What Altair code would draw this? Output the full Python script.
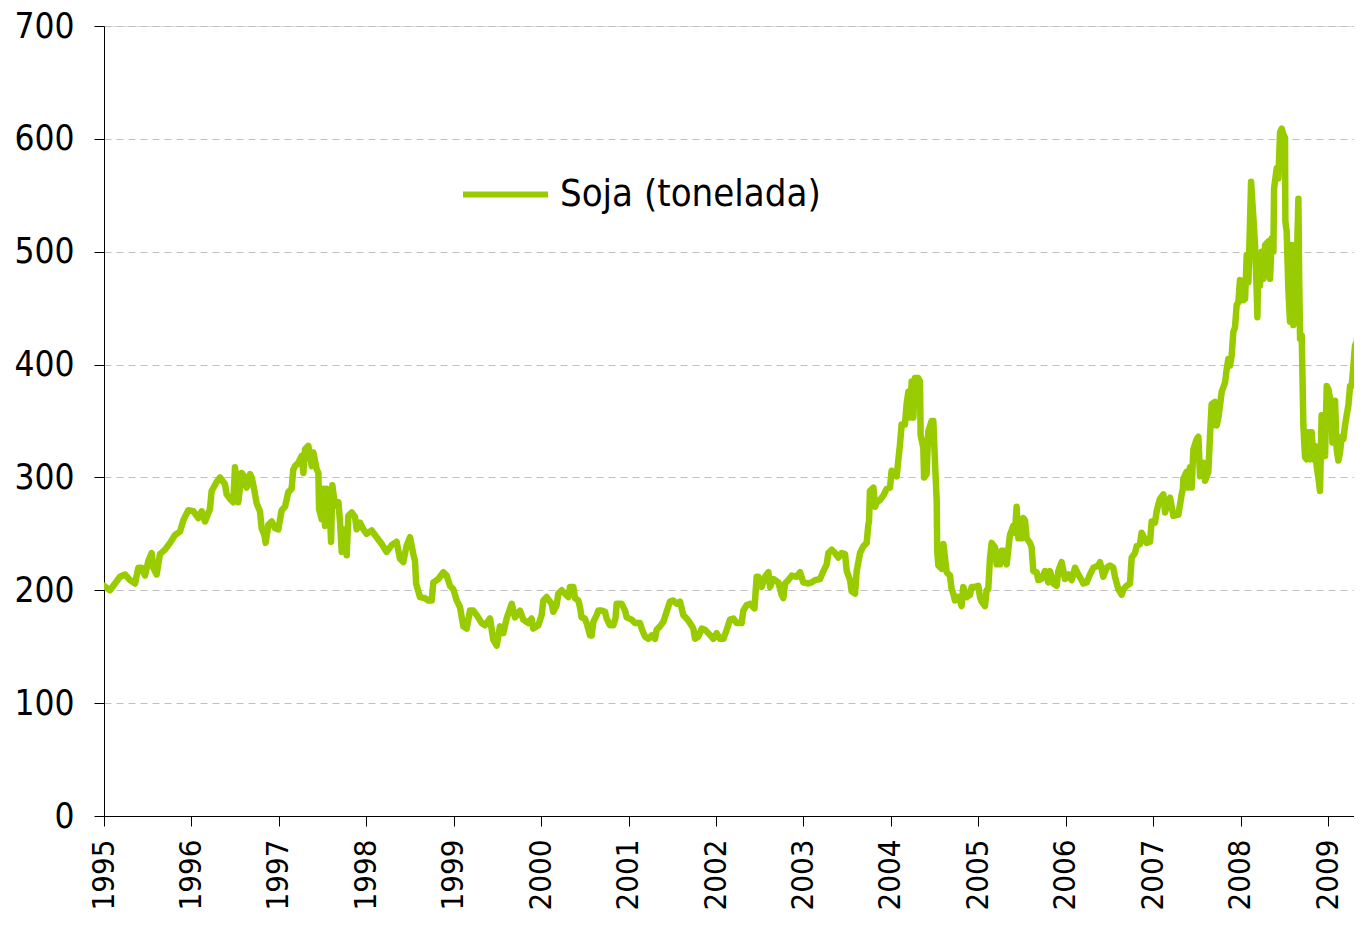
import altair as alt
import pandas as pd

# decimal year of each weekly quote
fecha = [
    1995.000, 1995.069, 1995.107, 1995.183, 1995.240, 1995.297, 1995.355, 1995.393, 1995.431, 1995.469,
    1995.507, 1995.545, 1995.564, 1995.602, 1995.640, 1995.698, 1995.755, 1995.812, 1995.869, 1995.907,
    1995.965, 1996.022, 1996.079, 1996.117, 1996.155, 1996.212, 1996.231, 1996.289, 1996.327, 1996.384,
    1996.403, 1996.441, 1996.479, 1996.498, 1996.517, 1996.536, 1996.575, 1996.601, 1996.632, 1996.670,
    1996.689, 1996.716, 1996.746, 1996.784, 1996.803, 1996.834, 1996.849, 1996.880, 1996.918, 1996.956,
    1996.994, 1997.032, 1997.070, 1997.108, 1997.146, 1997.165, 1997.185, 1997.223, 1997.261, 1997.280,
    1997.299, 1997.337, 1997.357, 1997.376, 1997.395, 1997.433, 1997.452, 1997.460, 1997.490, 1997.509,
    1997.528, 1997.547, 1997.566, 1997.585, 1997.597, 1997.612, 1997.642, 1997.681, 1997.700, 1997.719,
    1997.738, 1997.757, 1997.776, 1997.795, 1997.833, 1997.871, 1997.890, 1997.929, 1997.967, 1998.004,
    1998.061, 1998.099, 1998.176, 1998.233, 1998.290, 1998.347, 1998.385, 1998.423, 1998.462, 1998.500,
    1998.538, 1998.557, 1998.570, 1998.614, 1998.671, 1998.710, 1998.748, 1998.767, 1998.824, 1998.881,
    1998.919, 1998.957, 1998.995, 1999.034, 1999.072, 1999.110, 1999.148, 1999.186, 1999.224, 1999.262,
    1999.320, 1999.358, 1999.415, 1999.453, 1999.491, 1999.529, 1999.567, 1999.605, 1999.663, 1999.701,
    1999.758, 1999.796, 1999.853, 1999.891, 1999.910, 1999.968, 2000.006, 2000.025, 2000.063, 2000.120,
    2000.139, 2000.177, 2000.196, 2000.235, 2000.273, 2000.311, 2000.330, 2000.368, 2000.387, 2000.425,
    2000.444, 2000.463, 2000.501, 2000.520, 2000.559, 2000.578, 2000.597, 2000.635, 2000.654, 2000.692,
    2000.730, 2000.749, 2000.787, 2000.825, 2000.850, 2000.864, 2000.921, 2000.959, 2000.978, 2001.035,
    2001.073, 2001.130, 2001.150, 2001.188, 2001.226, 2001.264, 2001.302, 2001.321, 2001.359, 2001.397,
    2001.435, 2001.474, 2001.512, 2001.550, 2001.588, 2001.626, 2001.664, 2001.702, 2001.741, 2001.760,
    2001.798, 2001.836, 2001.874, 2001.912, 2001.969, 2002.007, 2002.045, 2002.084, 2002.122, 2002.160,
    2002.198, 2002.236, 2002.293, 2002.312, 2002.351, 2002.389, 2002.440, 2002.465, 2002.484, 2002.522,
    2002.561, 2002.599, 2002.618, 2002.656, 2002.713, 2002.751, 2002.770, 2002.789, 2002.827, 2002.866,
    2002.923, 2002.961, 2002.999, 2003.056, 2003.094, 2003.132, 2003.190, 2003.228, 2003.266, 2003.285,
    2003.323, 2003.361, 2003.399, 2003.437, 2003.476, 2003.495, 2003.533, 2003.552, 2003.590, 2003.609,
    2003.647, 2003.685, 2003.723, 2003.742, 2003.750, 2003.760, 2003.800, 2003.819, 2003.838, 2003.876,
    2003.914, 2003.952, 2003.990, 2004.009, 2004.047, 2004.066, 2004.085, 2004.104, 2004.123, 2004.161,
    2004.180, 2004.200, 2004.219, 2004.238, 2004.257, 2004.276, 2004.314, 2004.333, 2004.340, 2004.371,
    2004.380, 2004.409, 2004.428, 2004.466, 2004.485, 2004.504, 2004.524, 2004.530, 2004.543, 2004.581,
    2004.600, 2004.619, 2004.638, 2004.676, 2004.695, 2004.714, 2004.733, 2004.771, 2004.790, 2004.809,
    2004.828, 2004.867, 2004.905, 2004.924, 2004.962, 2005.000, 2005.019, 2005.038, 2005.076, 2005.095,
    2005.114, 2005.133, 2005.153, 2005.191, 2005.210, 2005.248, 2005.267, 2005.286, 2005.324, 2005.343,
    2005.362, 2005.400, 2005.419, 2005.438, 2005.458, 2005.496, 2005.515, 2005.534, 2005.553, 2005.591,
    2005.610, 2005.629, 2005.667, 2005.686, 2005.724, 2005.763, 2005.801, 2005.820, 2005.858, 2005.896,
    2005.915, 2005.953, 2005.991, 2006.029, 2006.068, 2006.106, 2006.144, 2006.182, 2006.201, 2006.239,
    2006.277, 2006.316, 2006.373, 2006.392, 2006.430, 2006.468, 2006.506, 2006.544, 2006.563, 2006.601,
    2006.640, 2006.659, 2006.697, 2006.735, 2006.754, 2006.792, 2006.811, 2006.849, 2006.868, 2006.925,
    2006.964, 2006.983, 2007.021, 2007.040, 2007.059, 2007.078, 2007.116, 2007.136, 2007.174, 2007.193,
    2007.231, 2007.288, 2007.326, 2007.340, 2007.345, 2007.383, 2007.402, 2007.421, 2007.441, 2007.460,
    2007.498, 2007.517, 2007.536, 2007.574, 2007.593, 2007.631, 2007.650, 2007.669, 2007.707, 2007.726,
    2007.746, 2007.765, 2007.784, 2007.822, 2007.841, 2007.860, 2007.879, 2007.898, 2007.917, 2007.936,
    2007.955, 2007.974, 2007.993, 2008.012, 2008.031, 2008.051, 2008.070, 2008.089, 2008.120, 2008.146,
    2008.165, 2008.184, 2008.192, 2008.203, 2008.222, 2008.241, 2008.261, 2008.280, 2008.318, 2008.337,
    2008.356, 2008.375, 2008.383, 2008.413, 2008.432, 2008.451, 2008.470, 2008.489, 2008.508, 2008.512,
    2008.527, 2008.546, 2008.565, 2008.585, 2008.604, 2008.642, 2008.661, 2008.670, 2008.680, 2008.699,
    2008.718, 2008.737, 2008.756, 2008.775, 2008.794, 2008.813, 2008.832, 2008.851, 2008.870, 2008.889,
    2008.908, 2008.927, 2008.946, 2008.966, 2008.985, 2009.004, 2009.023, 2009.042, 2009.050, 2009.080,
    2009.099, 2009.118, 2009.137, 2009.156, 2009.175, 2009.194, 2009.213, 2009.233, 2009.252, 2009.271,
    2009.290, 2009.309, 2009.328, 2009.347, 2009.366, 2009.385,
]

# price of soybeans per tonne
soja = [
    204, 200, 204, 212, 214, 209, 206, 220, 220, 213,
    226, 233, 220, 214, 232, 236, 242, 249, 252, 262,
    271, 270, 264, 270, 261, 272, 288, 296, 300, 294,
    285, 281, 278, 309, 297, 278, 304, 301, 291, 303,
    300, 290, 277, 270, 255, 249, 242, 258, 261, 255,
    254, 271, 274, 287, 290, 307, 310, 313, 319, 304,
    325, 328, 319, 310, 322, 307, 304, 272, 263, 290,
    257, 290, 287, 266, 243, 293, 275, 278, 260, 234,
    246, 254, 231, 266, 269, 265, 254, 260, 254, 250,
    253, 249, 241, 234, 240, 243, 228, 225, 240, 247,
    232, 226, 206, 194, 193, 191, 191, 207, 210, 216,
    213, 204, 201, 191, 185, 168, 166, 182, 182, 178,
    171, 169, 175, 156, 151, 168, 162, 175, 188, 176,
    182, 174, 171, 175, 166, 169, 178, 191, 194, 188,
    181, 187, 197, 200, 197, 194, 203, 203, 193, 191,
    185, 176, 175, 171, 160, 160, 172, 178, 182, 182,
    181, 175, 169, 169, 175, 188, 188, 182, 176, 174,
    171, 171, 166, 159, 157, 160, 157, 165, 168, 172,
    181, 190, 191, 188, 190, 178, 175, 171, 166, 157,
    159, 166, 165, 162, 157, 162, 157, 157, 165, 174,
    175, 171, 171, 182, 187, 188, 184, 212, 212, 203,
    212, 216, 203, 210, 207, 196, 193, 206, 209, 213,
    212, 216, 207, 206, 207, 209, 210, 217, 223, 233,
    236, 233, 229, 233, 232, 217, 209, 199, 197, 217,
    233, 239, 242, 258, 261, 288, 291, 274, 278, 280,
    284, 290, 291, 306, 303, 301, 315, 329, 347, 347,
    365, 376, 353, 385, 353, 388, 388, 385, 338, 326,
    300, 303, 341, 350, 350, 315, 279, 235, 222, 219,
    241, 229, 216, 213, 201, 197, 191, 194, 191, 186,
    203, 194, 196, 203, 203, 204, 194, 190, 186, 200,
    201, 228, 242, 238, 223, 223, 235, 235, 223, 236,
    249, 257, 251, 274, 246, 246, 264, 262, 246, 242,
    238, 217, 216, 209, 210, 217, 207, 217, 206, 204,
    217, 225, 210, 214, 209, 220, 214, 209, 206, 207,
    214, 220, 222, 225, 212, 220, 222, 220, 212, 201,
    196, 201, 204, 206, 229, 233, 239, 241, 251, 242,
    243, 261, 260, 270, 276, 281, 285, 269, 279, 282,
    266, 267, 285, 290, 299, 305, 291, 309, 291, 325,
    334, 336, 301, 313, 297, 305, 337, 365, 367, 346,
    353, 364, 376, 384, 396, 405, 399, 408, 429, 433,
    453, 455, 475, 473, 457, 458, 497, 473, 562, 530,
    506, 465, 442, 497, 470, 500, 476, 506, 509, 476,
    512, 500, 556, 574, 565, 606, 609, 604, 601, 527,
    518, 467, 438, 506, 435, 488, 547, 476, 423, 426,
    346, 318, 316, 340, 316, 340, 316, 328, 310, 300,
    288, 355, 353, 319, 381, 378, 370, 364, 331, 368,
    325, 315, 322, 336, 334, 346, 355, 364, 381, 381,
    399, 417, 420, 435, 447, 467,
]

anos = list(range(1995, 2010))
valores_y = list(range(0, 701, 100))
serie = "Soja (tonelada)"

FONT = "DejaVu Sans Condensed, DejaVu Sans"
VERDE = "#99CC00"

df = pd.DataFrame({"ano": fecha, "valor": soja})
df["serie"] = serie
df["orden"] = range(len(df))

chart = (
    alt.Chart(df)
    .mark_line(strokeWidth=6.5, strokeCap="round", strokeJoin="round", clip=True)
    .encode(
        x=alt.X(
            "ano:Q",
            scale=alt.Scale(domain=[1995, 2009.297], nice=False, zero=False),
            axis=alt.Axis(
                values=anos,
                format="d",
                labelAngle=-90,
                labelAlign="right",
                labelBaseline="middle",
                labelFontSize=31,
                labelFont=FONT,
                labelColor="#000000",
                labelPadding=13,
                tickSize=10,
                tickColor="#000000",
                domainColor="#000000",
                grid=False,
                title=None,
                labelOverlap=False,
            ),
        ),
        y=alt.Y(
            "valor:Q",
            scale=alt.Scale(domain=[0, 700], nice=False),
            axis=alt.Axis(
                values=valores_y,
                labelFontSize=35,
                labelFont=FONT,
                labelColor="#000000",
                labelPadding=20,
                tickSize=10,
                tickColor="#000000",
                domainColor="#000000",
                grid=True,
                gridColor="#c0c0c0",
                gridDash=[7, 5],
                gridWidth=1,
                title=None,
                labelOverlap=False,
            ),
        ),
        color=alt.Color(
            "serie:N",
            scale=alt.Scale(domain=[serie], range=[VERDE]),
            legend=alt.Legend(
                orient="none",
                legendX=356,
                legendY=123,
                title=None,
                symbolType="stroke",
                symbolSize=7225,
                symbolStrokeWidth=6,
                labelFontSize=38,
                labelFont=FONT,
                labelColor="#000000",
                labelLimit=600,
                labelOffset=9,
                padding=0,
            ),
        ),
        order="orden:Q",
    )
    .properties(
        width=1250,
        height=790,
        autosize=alt.AutoSizeParams(type="none"),
        padding={"left": 96, "top": 18, "right": 0, "bottom": 97},
    )
    .configure_view(strokeWidth=0)
    .configure(background="#ffffff")
)

chart.save("out.html", embed_options={"renderer": "svg", "actions": False})
